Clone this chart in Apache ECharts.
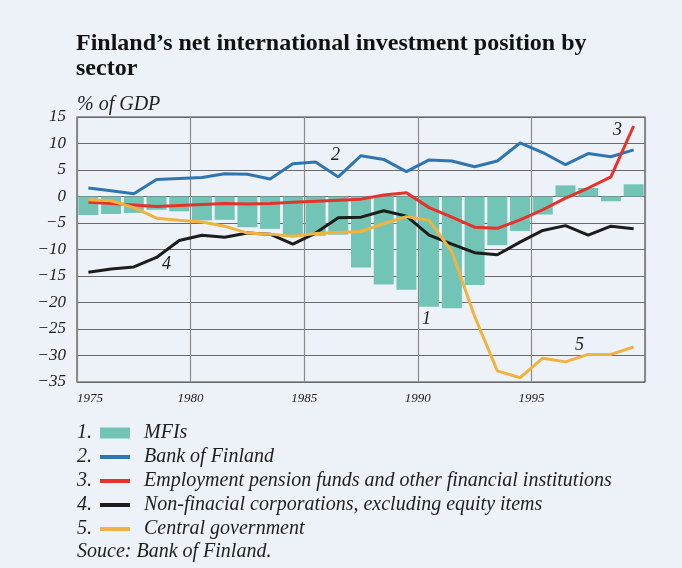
<!DOCTYPE html>
<html>
<head>
<meta charset="utf-8">
<script src="https://cdn.jsdelivr.net/npm/echarts@6/dist/echarts.min.js"></script>
<style>
  html, body { margin: 0; padding: 0; background: #edf2f9; }
  #chart { width: 682px; height: 568px; }
</style>
</head>
<body>
<div id="chart"></div>
<script>
// 1975..1999
const years = ['1975', '1976', '1977', '1978', '1979', '1980', '1981', '1982', '1983', '1984',
  '1985', '1986', '1987', '1988', '1989', '1990', '1991', '1992', '1993', '1994',
  '1995', '1996', '1997', '1998', '1999'];

const mfis = [-3.5, -3.3, -3.1, -2.5, -2.8, -4.5, -4.4, -5.8, -6.1, -7.5,
  -7.4, -7.2, -13.4, -16.6, -17.6, -20.8, -21.1, -16.7, -9.2, -6.5,
  -3.4, 2.1, 1.6, -0.9, 2.3];
const bankOfFinland = [1.6, 1.1, 0.5, 3.2, 3.4, 3.6, 4.3, 4.2, 3.3, 6.2,
  6.5, 3.7, 7.7, 7.0, 4.7, 6.9, 6.7, 5.6, 6.7, 10.1,
  8.3, 6.0, 8.1, 7.5, 8.8];
const pensionFunds = [-1.1, -1.3, -1.6, -1.9, -1.7, -1.5, -1.3, -1.4, -1.3, -1.1,
  -0.9, -0.7, -0.5, 0.3, 0.7, -2.1, -3.9, -5.8, -6.0, -4.4,
  -2.5, -0.3, 1.6, 3.7, 13.3];
const corporations = [-14.3, -13.7, -13.3, -11.5, -8.3, -7.3, -7.7, -6.9, -7.1, -9.0,
  -6.9, -4.0, -3.9, -2.7, -3.7, -7.3, -9.0, -10.6, -11.0, -8.6,
  -6.4, -5.5, -7.3, -5.6, -6.1];
const centralGov = [-0.6, -0.8, -2.1, -4.1, -4.5, -4.8, -5.6, -6.9, -7.1, -7.5,
  -7.0, -6.8, -6.6, -5.1, -3.8, -4.5, -10.4, -22.6, -32.9, -34.2,
  -30.5, -31.2, -29.8, -29.8, -28.4];

const seriesNames = ['MFIs', 'Bank of Finland',
  'Employment pension funds and other financial institutions',
  'Non-finacial corporations, excluding equity items', 'Central government'];

const font = 'Liberation Serif';
const textColor = '#1e1e1e';

const chart = echarts.init(document.getElementById('chart'));

function lineSeries(name, data, color) {
  return {
    name: name,
    type: 'line',
    data: data,
    symbol: 'none',
    lineStyle: { color: color, width: 3 },
    itemStyle: { color: color },
    z: 3,
  };
}

function label(text, x, y, size) {
  return {
    type: 'text',
    left: x,
    top: y,
    style: {
      text: text,
      font: 'italic ' + (size || 20) + 'px "' + font + '"',
      fill: textColor,
    },
  };
}

const option = {
  backgroundColor: '#edf2f9',
  animation: false,
  textStyle: { fontFamily: font },
  grid: {
    left: 77,
    right: 37,
    top: 117,
    bottom: 186,
    show: true,
    borderColor: '#444',
    borderWidth: 1.2,
  },
  xAxis: [
    {
      type: 'category',
      data: years,
      boundaryGap: true,
      axisLine: { show: false },
      axisTick: { show: false },
      axisLabel: { show: false },
      splitLine: { show: false },
    },
    {
      type: 'value',
      position: 'bottom',
      min: 1975,
      max: 2000,
      interval: 5,
      axisLine: { show: false },
      axisTick: { show: false },
      splitLine: { show: true, lineStyle: { color: '#8a8a8a', width: 1.2 } },
      axisLabel: {
        margin: 10,
        fontFamily: font,
        fontStyle: 'italic',
        fontSize: 13,
        color: textColor,
        showMaxLabel: false,
        alignMinLabel: 'left',
        formatter: (v) => String(v),
      },
    },
  ],
  yAxis: {
    type: 'value',
    min: -35,
    max: 15,
    interval: 5,
    axisLine: { show: false },
    axisTick: { show: false },
    splitLine: { lineStyle: { color: '#6a6a6a', width: 1 } },
    axisLabel: {
      margin: 11,
      fontFamily: font,
      fontStyle: 'italic',
      fontSize: 17,
      color: textColor,
      formatter: (v) => (v < 0 ? '\u2212' + Math.abs(v) : String(v)),
    },
  },
  legend: {
    orient: 'vertical',
    left: 98,
    top: 423,
    padding: 0,
    itemWidth: 30,
    itemHeight: 11,
    itemGap: 4,
    selectedMode: false,
    lineStyle: { width: 4 },
    textStyle: {
      fontFamily: font,
      fontStyle: 'italic',
      fontSize: 20,
      color: textColor,
      lineHeight: 20,
      padding: [0, 0, 0, 9],
    },
    data: seriesNames.map((n, i) => (i === 0
      ? { name: n, icon: 'rect' }
      : { name: n, itemStyle: { opacity: 0 } })),
  },
  graphic: [
    {
      type: 'text',
      left: 76,
      top: 31,
      style: {
        text: 'Finland\u2019s net international investment position by\nsector',
        font: 'bold 24px "' + font + '"',
        lineHeight: 25,
        fill: '#111',
      },
    },
    label('% of GDP', 77, 95),
    label('1.', 77, 423),
    label('2.', 77, 447),
    label('3.', 77, 471),
    label('4.', 77, 495),
    label('5.', 77, 519),
    label('Souce: Bank of Finland.', 77, 542),
    label('2', 331, 146, 18),
    label('4', 162, 255, 18),
    label('1', 422, 310, 18),
    label('3', 613, 121, 18),
    label('5', 575, 336, 18),
  ],
  series: [
    {
      name: seriesNames[0],
      type: 'bar',
      data: mfis,
      barCategoryGap: '12%',
      itemStyle: { color: '#72c4b7' },
      z: 2,
    },
    lineSeries(seriesNames[1], bankOfFinland, '#2f76b1'),
    lineSeries(seriesNames[2], pensionFunds, '#e6322a'),
    lineSeries(seriesNames[3], corporations, '#1c1c1c'),
    lineSeries(seriesNames[4], centralGov, '#f0b340'),
  ],
};

chart.setOption(option);
</script>
</body>
</html>
